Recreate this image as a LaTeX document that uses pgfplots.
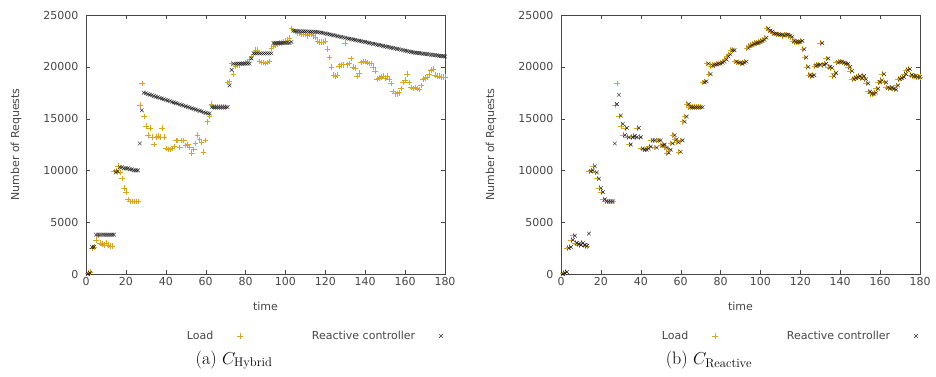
\documentclass[border=0pt]{standalone}
\usepackage{pgfplots}
\pgfplotsset{compat=1.18}
\usepackage{pgfplotstable}
\usepackage{fontspec}
\newfontfamily\gp{DejaVu Sans}
\definecolor{loadc}{RGB}{218,165,32}
\definecolor{ctrlc}{RGB}{30,30,30}
\definecolor{axc}{RGB}{70,70,70}

\pgfplotstableread{
t L H R
1 100 0 0
2 200 100 100
3 2500 2600 200
4 2600 2600 2500
5 3300 3800 2600
6 3700 3800 3300
7 3000 3800 3700
8 2900 3800 3000
9 2800 3800 2900
10 3000 3800 2800
11 2800 3800 3000
12 2700 3800 2800
13 2700 3800 2700
14 9900 3800 3900
15 10000 9800 9900
16 10400 9900 10000
17 9800 10300 10400
18 9200 10300 9800
19 8300 10200 9200
20 7900 10200 8300
21 7200 10200 7900
22 7000 10100 7200
23 7000 10100 7000
24 7000 10000 7000
25 7000 10000 7000
26 7000 10000 7000
27 16300 12600 12600
28 18400 15800 16400
29 15200 17500 17300
30 14300 17440 15300
31 13400 17370 14500
32 14100 17310 13400
33 13200 17250 14100
34 12500 17190 13200
35 13200 17120 12500
36 13300 17060 13200
37 13200 17000 13300
38 14100 16940 13200
39 13200 16870 14100
40 12100 16810 13200
41 12000 16750 12100
42 12000 16690 12000
43 12100 16620 12000
44 12300 16560 12100
45 12900 16500 12300
46 12900 16440 12900
47 12200 16370 12900
48 12900 16310 12200
49 12900 16250 12900
50 12400 16190 12900
51 12500 16120 12400
52 12200 16060 12500
53 11700 16000 12200
54 12000 15940 11700
55 12600 15870 12000
56 13400 15810 12600
57 13000 15750 13400
58 12700 15690 13000
59 11800 15620 12700
60 12900 15560 11800
61 14700 15500 12900
62 15200 15500 14700
63 16400 16100 15200
64 16100 16100 16400
65 16100 16100 16100
66 16100 16100 16100
67 16100 16100 16100
68 16100 16100 16100
69 16100 16100 16100
70 16100 16100 16100
71 18500 16100 16100
72 18600 18200 18500
73 20300 19700 18600
74 19300 20300 20300
75 20100 20300 19300
76 20200 20300 20100
77 20200 20300 20200
78 20300 20300 20200
79 20300 20300 20300
80 20400 20300 20300
81 20500 20300 20400
82 20700 20300 20500
83 21000 20800 20700
84 21200 21300 21000
85 21600 21300 21200
86 21600 21300 21600
87 20500 21300 21600
88 20400 21300 20500
89 20400 21300 20400
90 20300 21300 20400
91 20400 21300 20300
92 20500 21300 20400
93 21800 21300 20500
94 22000 22300 21800
95 22100 22300 22000
96 22200 22300 22100
97 22300 22300 22200
98 22300 22300 22300
99 22400 22300 22300
100 22500 22300 22400
101 22600 22300 22500
102 22800 22300 22600
103 23700 22400 22800
104 23500 23500 23700
105 23400 23450 23500
106 23200 23450 23400
107 23200 23440 23200
108 23100 23430 23200
109 23100 23420 23100
110 23100 23420 23100
111 23000 23410 23100
112 23100 23400 23000
113 23100 23390 23100
114 23000 23380 23100
115 22900 23370 23000
116 22500 23350 22900
117 22400 23330 22500
118 22400 23300 22400
119 22400 23260 22400
120 22500 23220 22400
121 21700 23170 22500
122 20900 23130 21700
123 20000 23090 20900
124 19200 23050 20000
125 19100 23010 19200
126 19200 22960 19100
127 20100 22920 19200
128 20200 22880 20100
129 20200 22840 20200
130 22300 22790 20200
131 20200 22750 22300
132 20300 22710 20200
133 20800 22670 20300
134 20000 22630 20800
135 19900 22590 20000
136 19100 22550 19900
137 19400 22510 19100
138 20400 22470 19400
139 20500 22430 20400
140 20500 22390 20500
141 20400 22350 20500
142 20300 22300 20400
143 20300 22260 20300
144 20000 22220 20300
145 19600 22180 20000
146 18800 22140 19600
147 18900 22100 18800
148 19000 22060 18900
149 19100 22020 19000
150 18900 21980 19100
151 19100 21930 18900
152 18800 21890 19100
153 18400 21850 18800
154 17600 21810 18400
155 17400 21770 17600
156 17400 21730 17400
157 17500 21690 17400
158 17900 21650 17500
159 18500 21600 17900
160 18700 21560 18500
161 19300 21520 18700
162 18500 21480 19300
163 18000 21440 18500
164 17900 21400 18000
165 18000 21370 17900
166 17900 21350 18000
167 17800 21320 17900
168 18200 21300 17800
169 18800 21270 18200
170 18900 21250 18800
171 19000 21220 18900
172 19300 21200 19000
173 19700 21170 19300
174 19800 21150 19700
175 19200 21120 19800
176 19100 21100 19200
177 19100 21070 19100
178 19000 21050 19100
179 19000 21020 19000
180 19000 21000 19000
}\datatable

\pgfplotsset{gpax/.style={
  width=359pt, height=259pt, scale only axis,
  xmin=0, xmax=180, ymin=0, ymax=25000,
  xtick={0,20,...,180}, ytick={0,5000,...,25000},
  scaled y ticks=false,
  /pgf/number format/set thousands separator={},
  /pgf/number format/assume math mode=true,
  ticklabel style={font=\gp\fontsize{11}{13}\selectfont, text=axc},
  yticklabel style={xshift=-4pt},
  label style={font=\gp\fontsize{11}{13}\selectfont, text=axc},
  axis line style={axc},
  tick style={axc},
  major tick length=4pt,
  xlabel={time}, ylabel={Number of Requests},
  xlabel style={at={(axis description cs:0.5,-0.127)}, anchor=center},
  ylabel style={at={(axis description cs:-0.195,0.5)}, anchor=center},
  legend columns=2,
  legend plot pos=right,
  legend style={draw=none, fill=none, font=\gp\fontsize{11}{13}\selectfont,
    text=axc, at={(axis description cs:1.003,-0.239)}, anchor=east,
    /tikz/every odd column/.style={column sep=22pt},
    /tikz/every even column/.style={column sep=67pt}},
  load/.style={only marks, mark=+, color=loadc, mark size=2.8pt, line width=0.5pt},
  ctrl/.style={only marks, mark=x, color=ctrlc, mark size=2.6pt, line width=0.45pt},
}}

\begin{document}
\begin{tikzpicture}
\path[use as bounding box] (0,0) rectangle (936pt,376pt);
\begin{axis}[gpax, at={(86pt,102pt)}, anchor=south west]
\addplot[load] table[x=t,y=L] {\datatable};
\addlegendentry{Load}
\addplot[ctrl] table[x=t,y=H] {\datatable};
\addlegendentry{Reactive controller}
\end{axis}
\begin{axis}[gpax, at={(561pt,102pt)}, anchor=south west]
\addplot[load] table[x=t,y=L] {\datatable};
\addlegendentry{Load}
\addplot[ctrl] table[x=t,y=R] {\datatable};
\addlegendentry{Reactive controller}
\end{axis}
\node[font=\fontsize{18}{21}\selectfont] at (234pt,16pt) {(a) $C_{\mathrm{Hybrid}}$};
\node[font=\fontsize{18}{21}\selectfont] at (709pt,16pt) {(b) $C_{\mathrm{Reactive}}$};
\end{tikzpicture}
\end{document}
